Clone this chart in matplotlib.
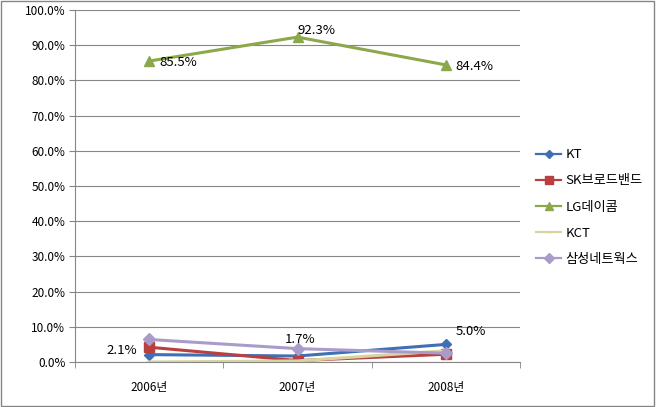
import numpy as np
import matplotlib.pyplot as plt
from matplotlib.ticker import FuncFormatter

plt.rcParams['font.family'] = ['Noto Sans CJK KR', 'DejaVu Sans']

years = ['2006년', '2007년', '2008년']
kt = [2.1, 1.7, 5.0]
sk = [4.2, 0.4, 2.2]
lg = [85.5, 92.3, 84.4]
kct = [0.0, 0.3, 3.2]
samsung = [6.4, 3.8, 2.5]

series = [
    ('KT', kt, '#3F6FB5', 'D', 5),
    ('SK브로드밴드', sk, '#B9403E', 's', 7),
    ('LG데이콤', lg, '#8BA84C', '^', 7),
    ('KCT', kct, '#D8D4A2', '_', 6),
    ('삼성네트웍스', samsung, '#A99CCB', 'D', 6),
]

fig = plt.figure(figsize=(6.56, 4.07), dpi=100)
ax = fig.add_axes([75 / 656, 45 / 407, 445 / 656, 352 / 407])

x = np.arange(len(years))
for name, vals, color, marker, ms in series:
    ax.plot(x, vals, color=color, marker=marker, markersize=ms, linewidth=2.2,
            label=name)

# data labels
lbl = dict(textcoords='offset points', fontsize=9.5, va='center')
ax.annotate(f'{kt[0]:.1f}%', (0, kt[0]), xytext=(-31, 3), **lbl)
ax.annotate(f'{kt[1]:.1f}%', (1, kt[1]), xytext=(-9, 12), **lbl)
ax.annotate(f'{kt[2]:.1f}%', (2, kt[2]), xytext=(7, 9), **lbl)
ax.annotate(f'{lg[0]:.1f}%', (0, lg[0]), xytext=(7, -1), **lbl)
ax.annotate(f'{lg[1]:.1f}%', (1, lg[1]), xytext=(0, 5), **lbl)
ax.annotate(f'{lg[2]:.1f}%', (2, lg[2]), xytext=(7, -1), **lbl)

ax.set_xlim(-0.5, 2.5)
ax.set_ylim(0, 100)
ax.set_yticks(np.arange(0, 101, 10))
ax.yaxis.set_major_formatter(FuncFormatter(lambda v, p: f'{v:.1f}%'))
ax.set_xticks(x)
ax.set_xticklabels(years)
ax.set_xticks([-0.5, 0.5, 1.5, 2.5], minor=True)
ax.tick_params(axis='x', which='major', length=0, pad=14, labelsize=8.5)
ax.tick_params(axis='x', which='minor', length=4, color='#868686')
ax.tick_params(axis='y', length=4, color='#868686', labelsize=8.5, pad=3)
ax.grid(axis='y', color='#868686', linewidth=0.8)
ax.set_axisbelow(True)
for side in ['top', 'right']:
    ax.spines[side].set_visible(False)
for side in ['left', 'bottom']:
    ax.spines[side].set_color('#868686')

leg = ax.legend(loc='center left', bbox_to_anchor=(1.01, 0.44), frameon=False,
                fontsize=9.5, handlelength=1.9, labelspacing=1.0, handletextpad=0.3,
                markerscale=0.8)
for line in leg.get_lines():
    line.set_linewidth(1.6)

fig.patches.append(plt.Rectangle((0.002, 0.002), 0.995, 0.995, transform=fig.transFigure,
                                 fill=False, edgecolor='#868686', linewidth=1))

fig.savefig('out.png', dpi=100)
